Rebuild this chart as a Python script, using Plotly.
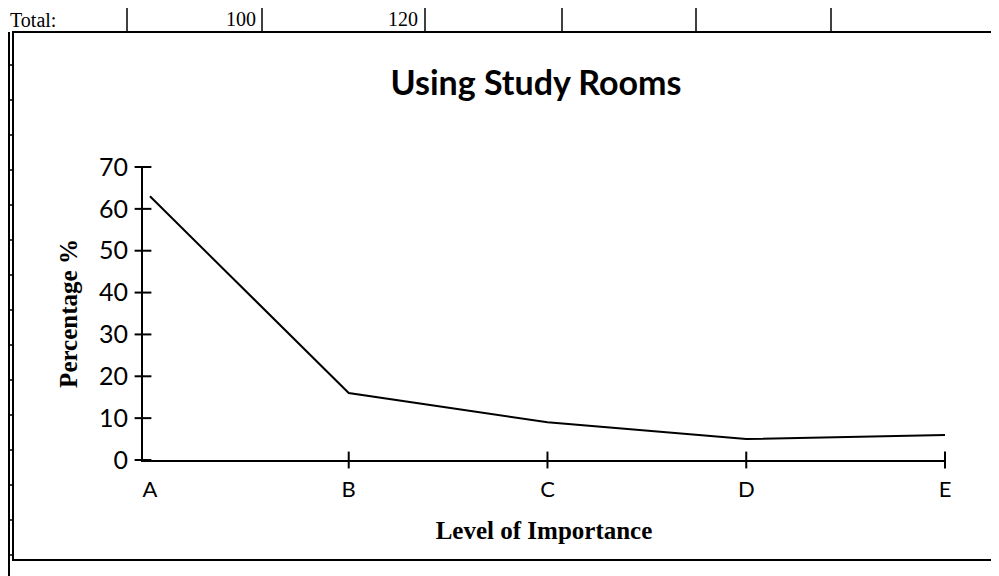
import plotly.graph_objects as go

# Data
levels = ["A", "B", "C", "D", "E"]
percentages = [63, 16, 9, 5, 6]
y_ticks = [0, 10, 20, 30, 40, 50, 60, 70]

title_text = "Using Study Rooms"
x_title = "Level of Importance"
y_title = "Percentage %"

# page geometry: the html body adds an 8px margin, so the figure is shrunk
OFF = 8
FW, FH = 999 - OFF, 576 - OFF
L, R, T, B = 135, 54, 159, 116
PW, PH = FW - L - R, FH - T - B


def px(page_x):
    return (page_x - OFF - L) / PW


def py(page_y):
    return (FH - B - (page_y - OFF)) / PH


geo = "Lato, 'Open Sans', sans-serif"
serif = "'Liberation Serif', 'Times New Roman', serif"

xr = [-0.035, 4.0]
yr = [0, 70]
xpos = list(range(len(levels)))

fig = go.Figure()
fig.add_trace(go.Scatter(
    x=xpos, y=percentages, mode="lines",
    line=dict(color="black", width=2), showlegend=False, hoverinfo="skip"))
# crossing tick marks, placed through the axes' own scales
fig.add_trace(go.Scatter(
    x=[xr[0]] * len(y_ticks), y=y_ticks, mode="markers", cliponaxis=False,
    marker=dict(symbol="line-ew", size=12, line=dict(color="black", width=2)),
    showlegend=False, hoverinfo="skip"))
fig.add_trace(go.Scatter(
    x=xpos[1:], y=[yr[0]] * (len(levels) - 1), mode="markers", cliponaxis=False,
    marker=dict(symbol="line-ns", size=12, line=dict(color="black", width=2)),
    showlegend=False, hoverinfo="skip"))

fig.update_layout(
    width=FW, height=FH,
    margin=dict(l=L, r=R, t=T, b=B),
    paper_bgcolor="white", plot_bgcolor="white",
    title=dict(text=f"<b>{title_text}</b>", x=(536 - OFF) / FW, xanchor="center",
               y=1 - (83 - OFF) / FH, yanchor="middle",
               font=dict(family=geo, size=34, color="black")),
    xaxis=dict(range=xr, tickmode="array", tickvals=xpos,
               ticktext=levels, showgrid=False, zeroline=False,
               showline=True, linecolor="black", linewidth=2,
               ticks="outside", ticklen=9, tickcolor="rgba(0,0,0,0)",
               tickfont=dict(family=geo, size=22, color="black"),
               title=dict(text=f"<b>{x_title}</b>", standoff=20,
                          font=dict(family=serif, size=25, color="black"))),
    yaxis=dict(range=yr, tickmode="array", tickvals=y_ticks,
               showgrid=False, zeroline=False,
               showline=True, linecolor="black", linewidth=2,
               ticks="outside", ticklen=8, tickcolor="rgba(0,0,0,0)",
               tickfont=dict(family=geo, size=25, color="black"),
               title=dict(text=f"<b>{y_title}</b>", standoff=14,
                          font=dict(family=serif, size=25, color="black"))),
)

# chart frame and spreadsheet remnants
shapes = [
    dict(type="rect", xref="paper", yref="paper",
         x0=px(13), x1=px(995), y0=py(560), y1=py(32),
         line=dict(color="black", width=2)),
    dict(type="line", xref="paper", yref="paper",
         x0=px(OFF + 1), x1=px(OFF + 1), y0=py(32), y1=py(576),
         line=dict(color="black", width=2)),
]
for sx in [127, 262, 425, 562, 696, 831]:
    shapes.append(dict(type="line", xref="paper", yref="paper",
                       x0=px(sx), x1=px(sx), y0=py(32), y1=py(OFF),
                       line=dict(color="black", width=1.5)))
for sy in range(65, 576, 35):
    shapes.append(dict(type="line", xref="paper", yref="paper",
                       x0=px(OFF), x1=px(13), y0=py(sy), y1=py(sy),
                       line=dict(color="black", width=1.5)))
fig.update_layout(shapes=shapes)

row_font = dict(family=serif, size=20, color="black")
fig.add_annotation(text="Total:", xref="paper", yref="paper", x=px(OFF), y=py(20),
                   xanchor="left", yanchor="middle", showarrow=False, font=row_font)
fig.add_annotation(text="100", xref="paper", yref="paper", x=px(258), y=py(19),
                   xanchor="right", yanchor="middle", showarrow=False, font=row_font)
fig.add_annotation(text="120", xref="paper", yref="paper", x=px(420), y=py(19),
                   xanchor="right", yanchor="middle", showarrow=False, font=row_font)

fig.write_html("out.html")
